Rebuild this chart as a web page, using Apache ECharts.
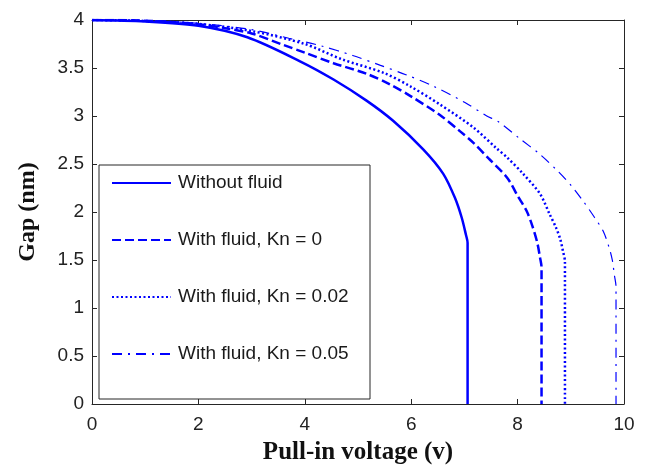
<!DOCTYPE html>
<html>
<head>
<meta charset="utf-8">
<script src="https://cdn.jsdelivr.net/npm/echarts@6/dist/echarts.min.js"></script>
<style>html,body{margin:0;padding:0;background:#fff}#c{width:646px;height:470px}</style>
</head>
<body>
<div id="c"></div>
<script>
const seriesNames = ['Without fluid', 'With fluid, Kn = 0', 'With fluid, Kn = 0.02', 'With fluid, Kn = 0.05'];
const xTicks = [0, 2, 4, 6, 8, 10];
const yTicks = [0, 0.5, 1, 1.5, 2, 2.5, 3, 3.5, 4];

const withoutFluid = [[0,4],[1,3.985],[2,3.94],[2.92,3.82],[3.91,3.57],[4.54,3.38],[5.16,3.16],[5.66,2.95],[6.23,2.65],[6.6,2.4],[6.82,2.15],[6.95,1.94],[7.03,1.76],[7.06,1.68],[7.06,0]];
const kn0 = [[0,4],[0.75,3.997],[1.5,3.98],[2,3.955],[2.5,3.915],[3,3.86],[3.6,3.74],[4.0,3.66],[4.54,3.55],[5.16,3.44],[5.6,3.33],[5.98,3.21],[6.54,3.01],[6.92,2.84],[7.17,2.72],[7.45,2.56],[7.8,2.36],[8.01,2.16],[8.17,2.01],[8.28,1.85],[8.37,1.68],[8.42,1.53],[8.45,1.42],[8.45,0]];
const kn002 = [[0,4],[1,3.99],[2,3.96],[3,3.885],[4,3.75],[4.7,3.59],[5.48,3.45],[5.98,3.31],[6.54,3.12],[7.17,2.88],[7.61,2.66],[7.8,2.57],[8.1,2.4],[8.42,2.19],[8.6,1.98],[8.72,1.84],[8.8,1.72],[8.85,1.6],[8.89,1.48],[8.89,0]];
const kn005 = [[0,4],[1,3.993],[2,3.965],[3,3.9],[3.7,3.81],[4.31,3.73],[4.9,3.63],[5.41,3.53],[5.9,3.43],[6.42,3.31],[7.01,3.14],[7.42,3.0],[7.64,2.94],[8.05,2.76],[8.4,2.61],[8.73,2.44],[9.0,2.28],[9.25,2.1],[9.45,1.94],[9.61,1.8],[9.72,1.63],[9.78,1.5],[9.82,1.34],[9.85,1.22],[9.85,0]];

const seriesData = [withoutFluid, kn0, kn002, kn005];
const lineStyles = [
  {type: 'solid', width: 2.5},
  {type: [9, 4], width: 2.5},
  {type: [2, 2.5], width: 2.5},
  {type: [10, 6, 2, 6], width: 1.2}
];
const BLUE = '#0000ff';
const AXC = '#262626';

const chart = echarts.init(document.getElementById('c'), null, {renderer: 'canvas'});
const baseX = {type: 'value', min: xTicks[0], max: xTicks[xTicks.length-1], interval: 2};
const baseY = {type: 'value', min: yTicks[0], max: yTicks[yTicks.length-1], interval: 0.5};
const tickInside = {show: true, inside: true, length: 5, lineStyle: {color: AXC}};
const lineAx = {show: true, onZero: false, lineStyle: {color: AXC, width: 1}};

chart.setOption({
  animation: false,
  backgroundColor: '#fff',
  grid: {left: 92, right: 22, top: 20, bottom: 64, containLabel: false},
  xAxis: [
    Object.assign({}, baseX, {
      position: 'bottom',
      name: 'Pull-in voltage (v)', nameLocation: 'middle', nameGap: 36,
      nameTextStyle: {fontFamily: 'Liberation Serif', fontWeight: 'bold', fontSize: 25, color: '#111'},
      axisLine: lineAx, axisTick: tickInside, splitLine: {show: false},
      axisLabel: {margin: 11, fontFamily: 'Liberation Sans', fontSize: 19, color: '#222',
        formatter: v => String(v)}
    }),
    Object.assign({}, baseX, {
      position: 'top', axisLine: lineAx, axisTick: tickInside, splitLine: {show: false},
      axisLabel: {show: false}
    })
  ],
  yAxis: [
    Object.assign({}, baseY, {
      position: 'left',
      name: 'Gap (nm)', nameLocation: 'middle', nameGap: 52,
      nameTextStyle: {fontFamily: 'Liberation Serif', fontWeight: 'bold', fontSize: 24, color: '#111'},
      axisLine: lineAx, axisTick: tickInside, splitLine: {show: false},
      axisLabel: {margin: 8, fontFamily: 'Liberation Sans', fontSize: 19, color: '#222',
        formatter: v => String(v)}
    }),
    Object.assign({}, baseY, {
      position: 'right', axisLine: lineAx, axisTick: tickInside, splitLine: {show: false},
      axisLabel: {show: false}
    })
  ],
  legend: {
    orient: 'vertical',
    left: 99, top: 165,
    padding: [8, 10, 35, 12],
    itemGap: 37,
    itemWidth: 59,
    itemHeight: 14,
    backgroundColor: '#fff',
    borderColor: AXC,
    borderWidth: 1,
    borderRadius: 0,
    itemStyle: {color: 'rgba(0,0,0,0)', borderWidth: 0, opacity: 0},
    textStyle: {fontFamily: 'Liberation Sans', fontSize: 19, lineHeight: 20, color: '#1a1a1a',
      width: 182, padding: [0, 0, 0, 2]},
    data: seriesNames
  },
  series: seriesData.map((d, i) => ({
    name: seriesNames[i],
    type: 'line',
    xAxisIndex: 0, yAxisIndex: 0,
    data: d,
    symbol: 'none',
    showSymbol: false,
    smooth: 0.3,
    color: BLUE,
    lineStyle: Object.assign({color: BLUE}, lineStyles[i]),
    z: 2
  }))
});
</script>
</body>
</html>
